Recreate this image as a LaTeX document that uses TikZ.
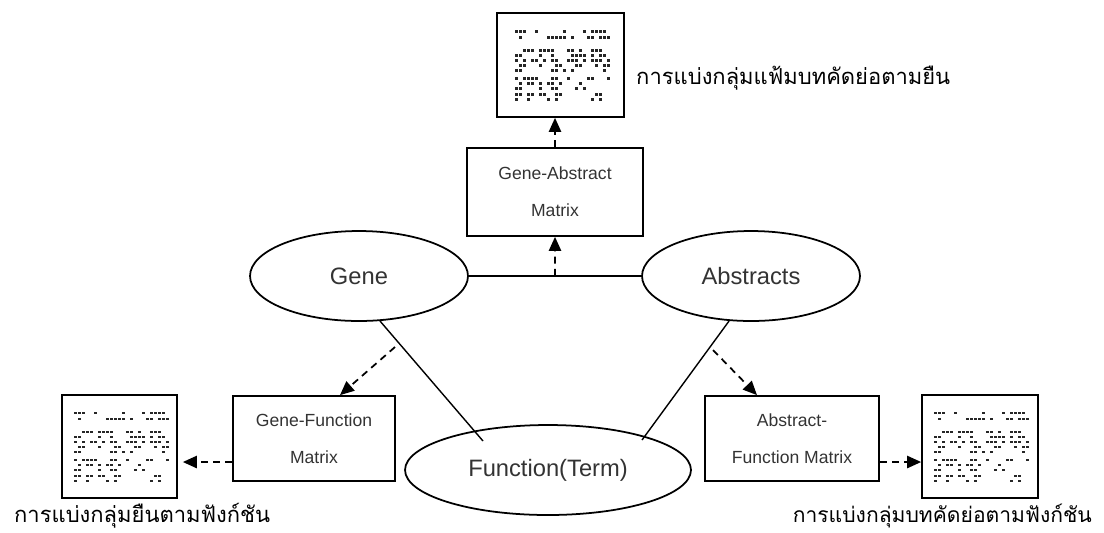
\documentclass[tikz,border=0pt]{standalone}
\usepackage{fontspec}
\setmainfont{Liberation Sans}
\newfontfamily\thaifont[Script=Thai]{Loma}
\usetikzlibrary{arrows.meta, positioning, calc, shapes.geometric}
\definecolor{txtgray}{HTML}{333333}

% blurred matrix picture inside the result boxes
\tikzset{matimg/.pic={
  \pgfmathsetseed{42}
  \foreach \yy/\dd in {-35/0.45,-29/0.3,-16/0.5,-11/0.55,-6/0.45,-1/0.4,4/0.3,12/0.45,17/0.4,22/0.35,28/0.25,33/0.25}{
    \foreach \xx in {-46,-42,...,46}{
      \pgfmathsetmacro\pp{rnd}
      \ifdim\pp pt<\dd pt \fill[black!85] (\xx,\yy) rectangle ++(3,2.5);\fi
    }
  }
}}

\begin{document}
\begin{tikzpicture}[x=0.02cm, y=-0.02cm,
  ent/.style={draw, ellipse, line width=1pt, minimum width=4.36cm, minimum height=1.8cm, font=\fontsize{13.5}{16}\selectfont, text=txtgray},
  mat/.style={draw, rectangle, line width=1pt, minimum height=1.7cm, align=center, font=\fontsize{10}{21}\selectfont, text=txtgray},
  img/.style={draw, rectangle, line width=1pt, minimum width=2.3cm, minimum height=2.06cm},
  thai/.style={font=\thaifont\fontsize{12.5}{14}\selectfont},
  link/.style={line width=0.8pt},
  darr/.style={line width=1pt, dash pattern=on 4pt off 3pt, -{Triangle[length=8pt,width=7pt]}}]
  \useasboundingbox (0,0) rectangle (1104,532);

  % top: gene-abstract result
  \node[img, minimum width=2.54cm, minimum height=2.08cm] (imgT) at (560.5,65) {};
  \pic at (imgT) {matimg};
  \node[thai, anchor=base west] (lblT) at (630,84) {การแบ่งกลุ่มแฟ้มบทคัดย่อตามยืน};
  \node[mat, minimum width=3.52cm, minimum height=1.76cm] (ga) at (555,192) {Gene-Abstract\\Matrix};

  % entities
  \node[ent] (gene) at (359,276) {Gene};
  \node[ent] (abs) at (751,276) {Abstracts};
  \node[ent, minimum width=5.72cm] (func) at (548,470) {Function(Term)};

  % matrices below
  \node[mat, minimum width=3.24cm] (gf) at (314,438.5) {Gene-Function\\Matrix};
  \node[mat, minimum width=3.48cm] (af) at (792,438.5) {Abstract-\\Function Matrix};
  \node[img] (imgL) at (119.5,446.5) {};
  \pic at (imgL) {matimg};
  \node[img, minimum width=2.32cm] (imgR) at (980,446.5) {};
  \pic at (imgR) {matimg};
  \node[thai, anchor=base west] (lblL) at (8,522) {การแบ่งกลุ่มยืนตามฟังก์ชัน};
  \node[thai, anchor=base east, font=\thaifont\fontsize{12}{14}\selectfont] (lblR) at (1098,522) {การแบ่งกลุ่มบทคัดย่อตามฟังก์ชัน};

  % links
  \draw[link] (gene) -- (abs);
  \coordinate (gam) at ($(gene.east)!0.5!(abs.west)$);
  \draw[darr] (gam) -- (ga.south);
  \draw[darr] (ga.north) -- (ga.north |- imgT.south);

  \coordinate (ge) at (483,441);
  \draw[link] (gene.-65) -- (ge);
  \coordinate (ae) at (642,440);
  \draw[link] (abs.-116) -- (ae);

  \coordinate (gs) at (395,347);
  \draw[darr] (gs) -- ($(gf.north)+(26,0)$);
  \coordinate (as) at (713,350);
  \draw[darr] (as) -- ($(af.north)+(-35,0)$);

  \draw[darr, shorten >=0.1cm] (gf.west |- 0,462) -- (imgL.east |- 0,462);
  \draw[darr] (af.east |- 0,462) -- (imgR.west |- 0,462);
\end{tikzpicture}
\end{document}
